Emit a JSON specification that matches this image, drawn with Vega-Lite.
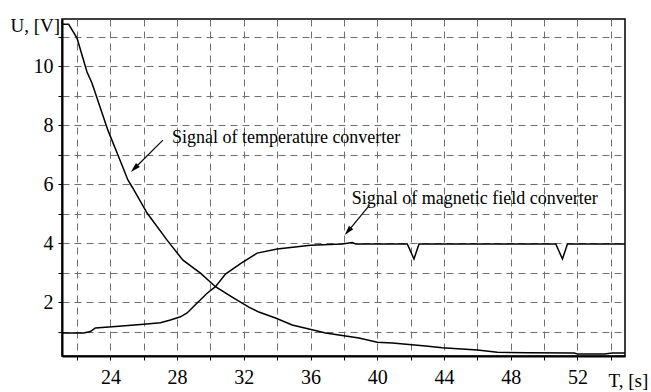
{
  "$schema": "https://vega.github.io/schema/vega-lite/v6.json",
  "width": 563,
  "height": 337,
  "autosize": "none",
  "padding": {"left": 62, "top": 19, "right": 26, "bottom": 36},
  "background": "white",
  "config": {"view": {"stroke": "black", "strokeWidth": 1.5}, "font": "Liberation Serif",
    "axis": {"labelFont": "Liberation Serif", "titleFont": "Liberation Serif", "gridDash": [7, 5], "gridColor": "#707070", "gridOpacity": 1, "gridWidth": 1}},
  "datasets": {
    "curves": [
      {"series": "temperature", "T": 21.1, "U": 11.42},
      {"series": "temperature", "T": 21.5, "U": 11.42},
      {"series": "temperature", "T": 22.0, "U": 10.95},
      {"series": "temperature", "T": 22.6, "U": 9.8},
      {"series": "temperature", "T": 22.9, "U": 9.42},
      {"series": "temperature", "T": 23.85, "U": 7.83},
      {"series": "temperature", "T": 24.7, "U": 6.64},
      {"series": "temperature", "T": 25.05, "U": 6.14},
      {"series": "temperature", "T": 25.35, "U": 5.86},
      {"series": "temperature", "T": 26.2, "U": 5.02},
      {"series": "temperature", "T": 27.4, "U": 4.1},
      {"series": "temperature", "T": 28.35, "U": 3.42},
      {"series": "temperature", "T": 29.4, "U": 2.98},
      {"series": "temperature", "T": 30.3, "U": 2.52},
      {"series": "temperature", "T": 31.3, "U": 2.17},
      {"series": "temperature", "T": 32.3, "U": 1.83},
      {"series": "temperature", "T": 32.9, "U": 1.66},
      {"series": "temperature", "T": 33.9, "U": 1.46},
      {"series": "temperature", "T": 34.9, "U": 1.22},
      {"series": "temperature", "T": 36.9, "U": 0.95},
      {"series": "temperature", "T": 38.9, "U": 0.78},
      {"series": "temperature", "T": 40.0, "U": 0.64},
      {"series": "temperature", "T": 40.9, "U": 0.61},
      {"series": "temperature", "T": 42.9, "U": 0.51},
      {"series": "temperature", "T": 43.9, "U": 0.45},
      {"series": "temperature", "T": 46.0, "U": 0.37},
      {"series": "temperature", "T": 47.2, "U": 0.3},
      {"series": "temperature", "T": 49.0, "U": 0.28},
      {"series": "temperature", "T": 51.8, "U": 0.27},
      {"series": "temperature", "T": 52.0, "U": 0.24},
      {"series": "temperature", "T": 53.6, "U": 0.24},
      {"series": "temperature", "T": 54.1, "U": 0.27},
      {"series": "temperature", "T": 54.85, "U": 0.27},
      {"series": "magnetic", "T": 21.1, "U": 0.95},
      {"series": "magnetic", "T": 22.4, "U": 0.95},
      {"series": "magnetic", "T": 22.8, "U": 1.0},
      {"series": "magnetic", "T": 23.1, "U": 1.12},
      {"series": "magnetic", "T": 24.5, "U": 1.18},
      {"series": "magnetic", "T": 26.0, "U": 1.25},
      {"series": "magnetic", "T": 27.0, "U": 1.3},
      {"series": "magnetic", "T": 27.6, "U": 1.39},
      {"series": "magnetic", "T": 28.2, "U": 1.5},
      {"series": "magnetic", "T": 28.6, "U": 1.63},
      {"series": "magnetic", "T": 29.2, "U": 1.97},
      {"series": "magnetic", "T": 29.8, "U": 2.3},
      {"series": "magnetic", "T": 30.3, "U": 2.52},
      {"series": "magnetic", "T": 30.9, "U": 2.95},
      {"series": "magnetic", "T": 31.8, "U": 3.3},
      {"series": "magnetic", "T": 32.8, "U": 3.66},
      {"series": "magnetic", "T": 34.0, "U": 3.8},
      {"series": "magnetic", "T": 36.0, "U": 3.93},
      {"series": "magnetic", "T": 37.9, "U": 3.97},
      {"series": "magnetic", "T": 38.5, "U": 4.02},
      {"series": "magnetic", "T": 38.7, "U": 3.97},
      {"series": "magnetic", "T": 41.8, "U": 3.97},
      {"series": "magnetic", "T": 42.2, "U": 3.46},
      {"series": "magnetic", "T": 42.5, "U": 3.97},
      {"series": "magnetic", "T": 50.7, "U": 3.97},
      {"series": "magnetic", "T": 51.1, "U": 3.46},
      {"series": "magnetic", "T": 51.4, "U": 3.97},
      {"series": "magnetic", "T": 54.85, "U": 3.97}
    ],
    "arrows": [
      {"name": "temp", "T": 25.44, "U": 6.53, "T0": 27.15, "U0": 7.49},
      {"name": "mag", "T": 38.24, "U": 4.4, "T0": 39.54, "U0": 5.29}
    ],
    "labels": [
      {"text": "Signal of temperature converter", "T": 27.69, "U": 7.55},
      {"text": "Signal of magnetic field converter", "T": 38.47, "U": 5.51}
    ]
  },
  "encoding": {
    "x": {"field": "T", "type": "quantitative", "scale": {"domain": [21.1, 54.85], "nice": false, "zero": false},
      "axis": {"orient": "bottom", "values": [22, 24, 26, 28, 30, 32, 34, 36, 38, 40, 42, 44, 46, 48, 50, 52, 54],
        "labelExpr": "datum.value % 4 == 0 ? datum.label : ''", "grid": true, "gridDash": [7, 5], "gridColor": "#707070", "gridOpacity": 1, "gridWidth": 1,
        "tickSize": 4, "tickColor": "black", "domainColor": "black", "domainWidth": 2,
        "labelFont": "Liberation Serif", "labelFontSize": 20, "labelColor": "black", "labelPadding": 7, "labelFlush": false, "labelOverlap": false,
        "title": "T, [s]", "titleFont": "Liberation Serif", "titleFontSize": 19, "titleFontWeight": "normal", "titleColor": "black",
        "titleX": 546, "titleY": 30, "titleAlign": "left", "titleBaseline": "alphabetic"}},
    "y": {"field": "U", "type": "quantitative", "scale": {"domain": [0.17, 11.6], "nice": false, "zero": false},
      "axis": {"orient": "left", "values": [1, 2, 3, 4, 5, 6, 7, 8, 9, 10, 11],
        "labelExpr": "datum.value % 2 == 0 ? datum.label : ''", "grid": true, "gridDash": [7, 5], "gridColor": "#707070", "gridOpacity": 1, "gridWidth": 1,
        "tickSize": 4, "tickColor": "black", "domainColor": "black", "domainWidth": 2,
        "labelFont": "Liberation Serif", "labelFontSize": 20, "labelColor": "black", "labelPadding": 5, "labelOverlap": false,
        "title": "U, [V]", "titleFont": "Liberation Serif", "titleFontSize": 19, "titleFontWeight": "normal", "titleColor": "black",
        "titleAngle": 0, "titleX": -52, "titleY": 12, "titleAlign": "left", "titleBaseline": "alphabetic"}}
  },
  "layer": [
    {
      "data": {"name": "curves"},
      "mark": {"type": "line", "color": "black", "strokeWidth": 1.5},
      "encoding": {
        "detail": {"field": "series", "type": "nominal"}
      }
    },
    {
      "data": {"name": "arrows"},
      "mark": {"type": "rule", "color": "black", "strokeWidth": 1.2},
      "encoding": {
        "x2": {"field": "T0"},
        "y2": {"field": "U0"}
      }
    },
    {
      "data": {"name": "arrows"},
      "transform": [{"filter": "datum.name == 'temp'"}],
      "mark": {"type": "point", "shape": "M0,-1L0.55,1L-0.55,1Z", "filled": true, "color": "black", "opacity": 1, "size": 100, "angle": 225},
      "encoding": {}
    },
    {
      "data": {"name": "arrows"},
      "transform": [{"filter": "datum.name == 'mag'"}],
      "mark": {"type": "point", "shape": "M0,-1L0.55,1L-0.55,1Z", "filled": true, "color": "black", "opacity": 1, "size": 100, "angle": 220},
      "encoding": {}
    },
    {
      "data": {"name": "labels"},
      "mark": {"type": "text", "align": "left", "baseline": "middle", "font": "Liberation Serif", "fontSize": 18, "color": "black"},
      "encoding": {
        "text": {"field": "text", "type": "nominal"}
      }
    }
  ]
}
